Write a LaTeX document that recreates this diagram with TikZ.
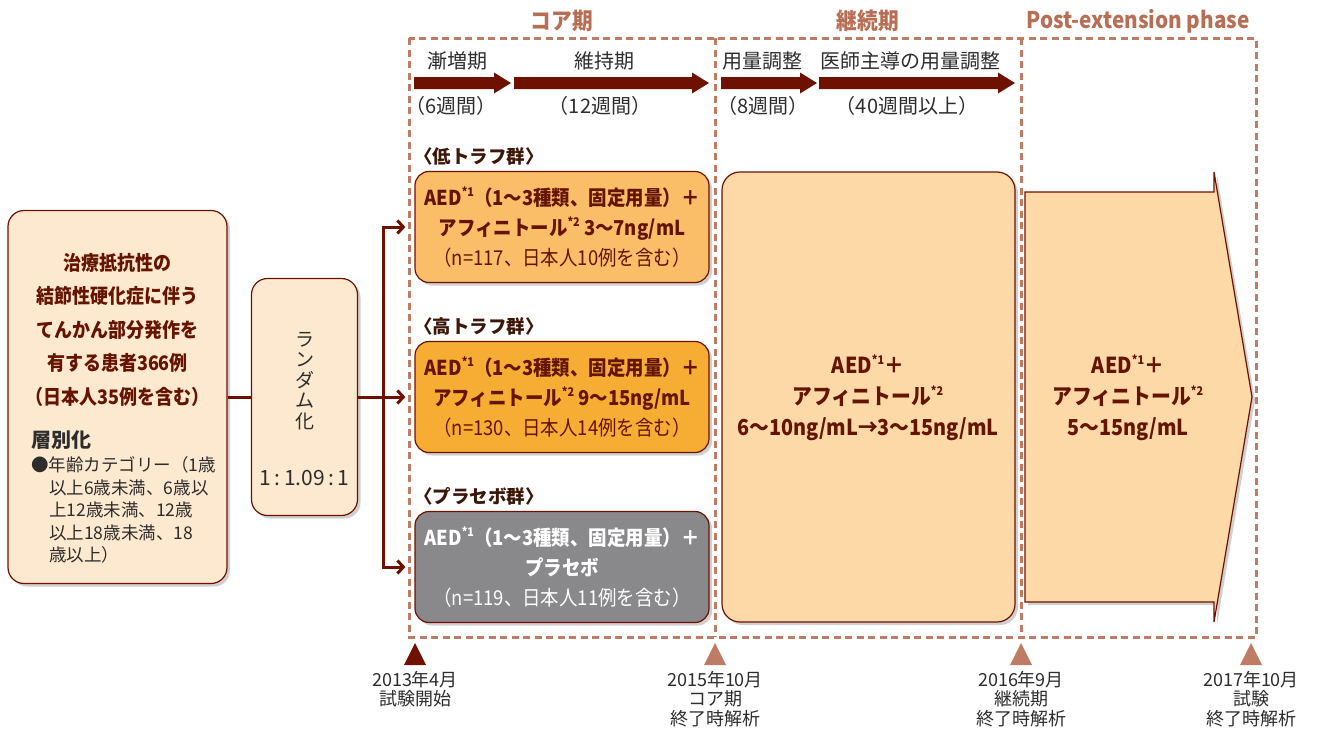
\documentclass[tikz,border=0pt]{standalone}
\usepackage{fontspec}
\setmainfont{Noto Sans CJK JP}
\newfontfamily\cond{Noto Sans CJK JP}[FakeStretch=0.9]
\usetikzlibrary{arrows.meta,shadows}
\definecolor{dred}{RGB}{110,17,0}
\definecolor{salm}{RGB}{190,124,100}
\definecolor{salmtxt}{RGB}{183,110,84}
\definecolor{cream}{RGB}{253,233,207}
\definecolor{orlight}{RGB}{250,189,104}
\definecolor{ordeep}{RGB}{247,173,52}
\definecolor{gbx}{RGB}{137,137,140}
\definecolor{peach}{RGB}{253,217,168}
\definecolor{btxt}{RGB}{100,20,0}
\definecolor{gtxt}{RGB}{45,45,45}
\definecolor{grptxt}{RGB}{60,22,8}
\newcommand\supr[1]{\raisebox{0.42em}{\fontsize{12}{12}\selectfont #1}}
\tikzset{
  shad/.style={drop shadow={shadow xshift=3pt,shadow yshift=-3pt,opacity=0.3,fill=black!60}},
  lbox/.style={draw=dred,line width=1.2pt,fill=cream,rounded corners=16pt,shad,inner sep=0pt},
  gbox/.style={draw=dred,line width=1.2pt,rounded corners=14pt,shad,minimum width=294pt,
    minimum height=111pt,inner sep=0pt,align=center,text=btxt,font=\cond\fontsize{20.5}{30}\selectfont},
  conn/.style={draw=dred,line width=3pt},
  dframe/.style={draw=salm,line width=3pt,dash pattern=on 7pt off 4.5pt},
  hdr/.style={text=salmtxt,font=\cond\bfseries\fontsize{23}{23}\selectfont,inner sep=0pt},
  plab/.style={text=gtxt,font=\fontsize{20}{20}\selectfont,inner sep=0pt},
  grp/.style={text=grptxt,font=\bfseries\fontsize{18.5}{18.5}\selectfont,inner sep=0pt,anchor=west},
  bigtxt/.style={align=center,text=btxt,font=\cond\bfseries\fontsize{22}{31}\selectfont,inner sep=0pt},
  datelab/.style={align=center,text=gtxt,font=\fontsize{18}{19.5}\selectfont,inner sep=0pt,anchor=north},
  barb/.style={-{Straight Barb[length=6pt,width=13pt]}}
}
\newcommand\phasearrow[2]{\fill[dred] (#1,77)--(#2-17,77)--(#2-17,72.5)--(#2,83)--(#2-17,93.5)--(#2-17,89)--(#1,89)--cycle;}
\newcommand\milestone[2]{\fill[#2] (#1-11,665)--(#1+11,665)--(#1,643)--cycle;}
\begin{document}
\begin{tikzpicture}[x=1pt,y=-1pt]
\useasboundingbox[fill=white] (0,0) rectangle (1319,731);

% dashed frame
\draw[dframe] (409,38) rectangle (1256,637);
\draw[dframe] (715,38) -- (715,637);
\draw[dframe] (1021,38) -- (1021,637);

% headers
\node[hdr] (h1) at (562,21) {コア期};
\node[hdr] (h2) at (868,21) {継続期};
\node[hdr] (h3) at (1138,21) {Post-extension phase};

% phase arrows and labels
\phasearrow{414}{511}
\phasearrow{514}{709}
\phasearrow{721}{817}
\phasearrow{819}{1015}
\node[plab] (p1) at (457,61) {漸増期};
\node[plab] (p2) at (604,61) {維持期};
\node[plab] (p3) at (762,61) {用量調整};
\node[plab] (p4) at (910,61) {医師主導の用量調整};
\node[plab] (d1) at (451,106) {（6週間）};
\node[plab] (d2) at (600,106) {（12週間）};
\node[plab] (d3) at (763,106) {（8週間）};
\node[plab] (d4) at (907,106) {（40週間以上）};

% left box
\node[lbox,minimum width=219pt,minimum height=373pt] (L) at (117.5,397) {};
\node[align=center,text=btxt,font=\cond\bfseries\fontsize{20}{33.5}\selectfont,inner sep=0pt] (Lt) at (117.5,329.5)
  {治療抵抗性の\\結節性硬化症に伴う\\てんかん部分発作を\\有する患者366例\\（日本人35例を含む）};
\node[anchor=west,text=gtxt,font=\bfseries\fontsize{20}{20}\selectfont,inner sep=0pt] (Ls) at (31,440) {層別化};
\node[anchor=west,align=left,text=gtxt,font=\fontsize{17.5}{22.4}\selectfont,inner sep=0pt] (Lb) at (31,510)
  {●年齢カテゴリー（1歳\\\hspace*{18pt}以上6歳未満、6歳以\\\hspace*{18pt}上12歳未満、12歳\\\hspace*{18pt}以上18歳未満、18\\\hspace*{18pt}歳以上）};

% randomisation box
\node[lbox,minimum width=106pt,minimum height=237pt] (R) at (304.5,397) {};
\node[align=center,text=gtxt,font=\fontsize{19}{20.5}\selectfont,inner sep=0pt] (Rt) at (305,381) {ラ\\ン\\ダ\\ム\\化};
\node[text=gtxt,font=\fontsize{21}{21}\selectfont,inner sep=0pt] (Rr) at (304.5,478) {1\,:\,1.09\,:\,1};

% group labels and boxes
\node[grp] (gl1) at (414,156) {〈低トラフ群〉};
\node[grp] (gl2) at (414,326) {〈高トラフ群〉};
\node[grp] (gl3) at (414,496) {〈プラセボ群〉};
\node[gbox,fill=orlight] (g1) at (562,227)
  {{\bfseries AED\supr{*1}（1～3種類、固定用量）＋}\\{\bfseries アフィニトール\supr{*2} 3～7ng/mL}\\（n=117、日本人10例を含む）};
\node[gbox,fill=ordeep] (g2) at (562,397)
  {{\bfseries AED\supr{*1}（1～3種類、固定用量）＋}\\{\bfseries アフィニトール\supr{*2} 9～15ng/mL}\\（n=130、日本人14例を含む）};
\node[gbox,fill=gbx,text=white] (g3) at (562,567)
  {{\bfseries AED\supr{*1}（1～3種類、固定用量）＋}\\{\bfseries プラセボ}\\（n=119、日本人11例を含む）};

% connectors
\coordinate (B) at (383,397);
\draw[conn] (L.east) -- (R.west);
\draw[conn,barb] (R.east) -- ([xshift=-9pt]g2.west);
\draw[conn,barb] (B) |- ([xshift=-9pt]g1.west);
\draw[conn,barb] (B) |- ([xshift=-9pt]g3.west);

% continuation box
\node[lbox,fill=peach,rounded corners=18pt,minimum width=293pt,minimum height=450pt] (C) at (868.5,397) {};
\node[bigtxt] (Ct) at (868,398) {AED\supr{*1}＋\\アフィニトール\supr{*2}\\6～10ng/mL→3～15ng/mL};

% post-extension arrow
\draw[draw=dred,line width=1.2pt,fill=peach,shad] (1025,192) -- (1214,192) -- (1214,172) -- (1252,397)
  -- (1214,622) -- (1214,602) -- (1025,602) -- cycle;
\node[bigtxt] (Pt) at (1128,398) {AED\supr{*1}＋\\アフィニトール\supr{*2}\\5～15ng/mL};

% milestones
\milestone{415}{dred}
\milestone{715}{salm}
\milestone{1021}{salm}
\milestone{1251}{salm}
\node[datelab] (m1) at (415,671) {2013年4月\\試験開始};
\node[datelab] (m2) at (715,671) {2015年10月\\コア期\\終了時解析};
\node[datelab] (m3) at (1021,671) {2016年9月\\継続期\\終了時解析};
\node[datelab] (m4) at (1251,671) {2017年10月\\試験\\終了時解析};
\end{tikzpicture}
\end{document}
